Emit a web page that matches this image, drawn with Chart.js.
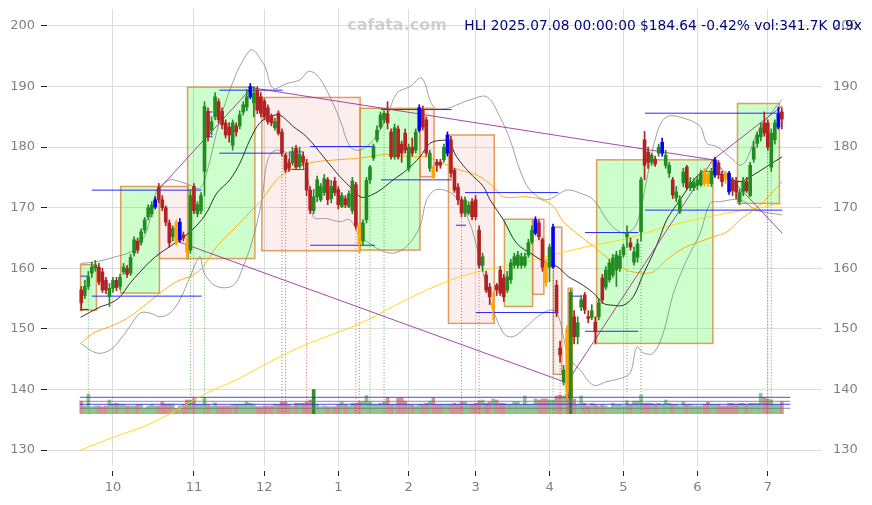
<!DOCTYPE html>
<html><head><meta charset="utf-8">
<script src="https://cdn.jsdelivr.net/npm/chart.js@4.4.0/dist/chart.umd.min.js"></script>
<style>html,body{margin:0;padding:0;background:#fff;}#wrap{position:relative;width:872px;height:505px;}</style>
</head><body><div id="wrap"><canvas id="c"></canvas></div>
<script>
// ---- DATA ----
const ticker = 'HLI';
const headline = 'HLI 2025.07.08 00:00:00 $184.64 -0.42% vol:341.7K 0.9x';
const watermark = 'cafata.com';
const monthTickIdx = [9, 32, 52, 73, 93, 112, 133, 154, 175, 195];
const monthTickLabels = ['10', '11', '12', '1', '2', '3', '4', '5', '6', '7'];
const priceTicks = [130, 140, 150, 160, 170, 180, 190, 200];

const opens = [156.4,155.5,157,159.2,160,160.2,159.4,158,155.3,156.7,158,157,159.4,160,159.2,162.5,164.5,164.3,166.3,168.5,
169,170.1,173.3,171.3,170,167.5,165.2,167.6,164.7,165.5,164.2,163,173.5,169,169.5,176,185.9,182.8,185,187.5,
185.9,184,183.3,180.3,183.5,183.5,185.8,186.6,188.3,187.3,189.4,188.3,187.6,186.5,185.2,183.2,185.6,182.5,178.7,177.4,
177.4,179.8,176.8,178.5,177.4,172.9,169.5,171.8,171.3,172.5,174.6,171.5,174.4,173,170.2,171.5,170.2,169.5,173.8,167,
164.5,168,174.6,178.2,181.2,183.3,184.5,185.5,182.5,178.4,183,180.5,182.3,176.5,180,179.5,182.8,186.1,184.5,176.5,
176.7,177.5,177.5,177.9,179,181.2,176.2,173.4,171.3,169.1,169.1,171,171.3,166.3,160.5,158.9,156.9,153.4,157.2,159.7,
158.4,156.4,158.1,160.5,160.5,160.5,160.5,162.2,164.3,165.8,167.5,164.7,160.9,160.2,160.2,157.2,146.8,141.2,150,139,
152,148.7,153.6,155.6,152,151.9,151.1,152,158.4,156.9,158.1,158.9,159.7,160,162.2,165.2,164.2,161,161.8,166,
181.2,179.2,177.5,178,179,179,177,175.7,174.6,171.6,169.3,174.1,176.7,173.3,173.3,173.7,173.8,175.9,175.5,174,
175.4,177.4,175.5,175.7,175.7,174.5,174.3,171,172.6,174.3,172,178,180.6,181.7,184,184,176.7,181.2,183.3,185.8];
const highs = [157,158,159.5,161,161.3,160.8,160,158.5,157.5,158.5,158.5,159,160.8,160.5,162.3,165.2,165,166.5,168.4,170.5,
171,171.8,174,172,170.3,168,167,168,168.2,166,165,173,174,171,172.5,187.5,186.5,185,189,188,
186.5,184.5,184,184.5,184,186,187.5,189.5,190.5,190,190,189,188,187,185.5,184.8,186,183,179,178,
180,180.3,180,179,178,173.5,173,175.2,174,175.5,175,174.5,175,173.5,172.5,172,172.8,175,174.2,167.5,
168,175,177,180.5,183.5,185.8,186,187.5,183,183.8,183.5,181,183,180.5,181.5,183,187,186.8,185,179.5,
177,178,178,180.5,182.5,181.8,176.5,174,171.8,171.8,171,171.5,172,167,162.5,159.5,157.5,156,157.5,160.3,
159,159.5,161.5,162.5,162.8,162.5,162.5,164.8,167,168.5,168,165,161.5,164,167.3,158,148,144,150.5,156.5,
153,152,155.5,156,153,154,152,155,159,160.3,161.5,162.3,162.8,163,164,167,165,163.5,164.8,175,
182.6,180,179,178.5,180.5,181.5,179.5,177.5,175,173.5,172,176.5,177,175,174.8,175.2,176.2,176.5,176,176.5,
178.3,177.8,176,176,176,175,175,173,175,175,177.5,181,182.5,184,185.8,184.5,183,184.5,186.6,186.5];
const lows = [153,155,156.5,158.5,159.5,157.3,156,155.8,153.7,156,156.3,156.5,159,158.5,158.8,162,162.5,163.8,165.8,168,
168.5,169.8,170.8,169.5,167,163.5,164.5,163.8,164.3,164.5,161.5,162.5,169,168.5,169,172,181,182,184.5,184,
183,181.5,180.8,179.5,181.8,183,185.3,186,188,185,185.5,185,184.5,183.8,183.5,182.8,182,178.5,175.8,176,
177,176.3,176.5,177,172,169,169,171,171,172,170.5,170.8,172,169.8,170,170,170,169,166.5,162.5,
163.8,167.5,174,177.8,180.8,183,184,183,178,178,178,177.5,179,176,178.5,179,182.5,182.8,178.5,176,
174.5,176,176.5,177.5,178.5,175,172.5,170.5,168.5,168.5,168.8,168,168,160,159.5,156,154,151.5,155.5,155.5,
154.5,156,157.5,160,160,160,160.2,161.8,164,165.5,164.7,159.5,157,157.8,160,152,144.5,140.7,138.5,138.5,
147.5,147.5,153,152.5,151,151.5,147.5,151.5,154.2,156.5,157.7,158.5,157,159.5,161.8,163.5,163,160.5,161,164.5,
174.6,176.5,177,176.8,178.5,178.5,176.5,175,171.5,171,169,173.5,173,172.8,172.8,173,173.5,173.5,173.5,173.5,
175,174.8,173.5,174,172.2,172,171.5,170.5,172,172.5,171.8,177.5,180,181,181.8,179.5,176,180.5,183,183];
const closes = [154.3,157,158.6,160.2,160.5,157.7,156.4,156.4,156.7,158,156.8,158.5,160.2,159,161.8,164.7,163,166,168,170,
170.4,171.3,171.3,170,167.6,164.2,166.6,164.2,167.6,165,162.7,172,169.5,170.5,172,186.7,181.7,184.2,188.3,184.5,
183.7,182,182,184,182.5,185.3,187,188.3,190,188.9,186.1,185.6,185,184.2,184,184.2,182.3,179,176.2,176.5,
179.2,176.7,178.8,177.5,172.9,169.6,171.8,174.6,173.5,174.8,171.3,173.5,172.5,170.5,172,170.5,172.3,174.4,167,164,
167.5,174.5,176.7,180,182.8,185.3,185.6,184,178.4,183.2,178.4,179,179.5,180,179,182.5,186.5,183.3,179,179,
175,177,177,180,182,175.7,172.9,171.3,169.1,171.3,170.4,168.5,168.5,160.5,161.9,156.4,155.3,154.3,156.4,155.9,
155.3,158.6,160.9,161.9,162.2,161.9,161.9,164.2,166.3,168,165.2,160.2,157.6,163.5,166.8,152.6,145.7,143.2,139.6,156,
148.7,151,154.8,153.1,151.7,153,149.5,154.3,154.8,159.7,160.9,161.7,162.2,162,163.5,165.8,163.5,162.7,164,174.6,
177,177.5,178.7,177.2,180,180.8,178.7,177,172.1,172.6,171.3,175.9,173.3,174.2,174.1,174.6,175.7,174,174,176,
177.9,175.4,174.3,174.7,172.6,172.8,172.6,172.5,174.3,172.8,177,180,182,183.2,182.3,180,182.3,184,185.42,184.64];
// volume in thousands of shares
const volumes = [360,220,560,200,220,220,200,220,390,275,295,265,265,220,220,220,265,265,170,220,
265,220,220,335,275,275,275,150,220,265,390,390,430,265,265,465,265,220,305,220,
220,220,220,265,265,265,265,342,295,265,200,200,220,220,220,265,265,335,335,265,
220,295,295,295,335,390,690,265,200,220,200,200,200,265,335,265,220,295,295,335,
335,520,335,265,265,295,335,465,265,265,450,450,360,265,265,220,265,265,295,360,
450,265,265,265,265,265,295,265,335,335,265,265,295,360,390,295,335,420,390,295,
295,265,265,335,335,265,505,265,265,420,390,420,420,390,390,505,535,505,580,705,
420,265,505,295,220,295,265,220,265,220,180,295,265,265,220,360,265,360,360,535,
295,295,295,265,295,265,390,295,265,265,220,335,265,265,220,220,220,265,335,265,
265,265,220,220,295,295,265,295,295,265,295,295,295,580,465,420,390,265,265,341.7];
const volumeLevels = [467, 353, 268, 154];
const blueCandles = [21, 28, 48, 96, 104, 129, 134, 165, 180, 184, 198];
const orangeCandles = [27, 30, 79, 100, 117, 132, 138, 177, 178, 183];
const buySignals = [2, 31, 35, 82, 86, 134, 155, 159, 195, 196];
const sellSignals = [57, 58, 64, 78, 79, 108, 113, 136, 138];

// moving averages / bands: [bar index, price]
const maShort = [[-0.2,151.9],[5.3,153.6],[8.2,154.2],[11,155.3],[13.8,157.5],[16.7,159.4],[19.5,161.1],[22.4,162.5],[25.2,163.6],[28,164.7],[30.9,166],[34.2,168],[36,169.6],[38.5,172.4],[42.2,174.6],[45.1,177.4],[47.9,181.2],[50.7,184],[53.6,185],[56.4,185.3],[60.2,183.4],[64,181.7],[68.8,178.4],[73.5,175.1],[77.3,172.9],[79.2,171.8],[81.2,171.8],[84.9,172.9],[88.6,174.6],[92.4,176.2],[96.2,178.4],[99,180.6],[101.9,181.1],[104.3,180.9],[106.6,178.4],[110.4,175.7],[114.2,173.5],[116.1,171.3],[119.9,168],[123.7,164.1],[128.4,162.2],[132.2,160.8],[135.1,160.3],[138.4,158.6],[141.7,157.5],[145.5,155.9],[148.3,154.2],[151.1,153.9],[154,153.9],[156.8,155.3],[159.6,159],[162.5,162.5],[164.4,165.2],[166.3,168],[170.1,171.3],[175.8,175.7],[179.5,175.9],[183.4,175.1],[187.1,174.3],[190.9,175.4],[194.7,176.8],[199.1,178.4]];
const maMid = [[-0.2,147.6],[3.4,149.3],[8.2,150.4],[12.9,151.7],[17.6,153.7],[22.4,155.9],[27.1,157.8],[31.8,158.9],[34.7,160.3],[38.5,163.6],[44.1,166.9],[48.9,169.9],[51.3,171.3],[55.5,174.6],[60.2,176.5],[65.9,177.5],[72.6,177.9],[79.2,178.2],[86.8,178.8],[93.4,178.4],[98.1,178.4],[102.8,177.3],[107.6,176.2],[112.3,175.4],[117,173.5],[119.9,171.8],[126.5,171.8],[130.8,171.3],[134.1,170.2],[136.9,167.7],[140.7,165.8],[145.5,163.6],[150.2,161.4],[154.9,159.7],[159.7,159.2],[162.5,159.4],[166.3,161.4],[171,163.3],[175.8,164.4],[179.5,165.2],[183.4,166],[187.1,168],[190.9,169.6],[193.8,171],[199.1,174.3]];
const maLong = [[-0.2,130],[9.1,132.1],[18.6,134.1],[27.1,136.6],[35.6,139.4],[44.1,141.6],[60.2,146.5],[79.2,150.9],[88.6,153.7],[98.1,156.4],[107.6,158.6],[117,160],[126.5,161.1],[135.9,162.5],[145.5,163.8],[154.9,164.9],[166.3,166.9],[175.8,168.2],[185.2,169.3],[194.7,170.2],[199.1,170.7]];
const bandUpper = [[-0.2,160.8],[4.4,161.1],[9.1,161.8],[14.3,162.8],[17.6,164.9],[19.5,168],[21.2,172.5],[22.4,173.5],[25.2,174.6],[28,174.3],[30.9,173.7],[33.7,173.2],[35.6,175.7],[39.4,184.5],[44.1,192.2],[47.9,196],[49.3,195.8],[50.7,194.7],[52.2,193.3],[54.5,189.7],[58.4,190.5],[62.1,191.1],[64.5,192.5],[66.9,191.9],[69.7,189.4],[73.5,184.5],[76.3,180.1],[79.2,179.5],[83,181.2],[86.8,185],[89.6,188.9],[93.4,190],[96.7,191.4],[100,186.7],[103.8,186.4],[107.6,187.2],[110.4,187.8],[115.2,188.3],[118.9,185],[121.8,181.2],[124.6,176.2],[127.5,172.9],[132.2,171.3],[137.9,172.9],[141.7,172.4],[145.5,171.3],[149.3,168],[152.1,166.3],[154.9,165.8],[157.8,167.4],[160.6,174.6],[163.5,182.3],[166.3,185],[171,184.8],[175.8,183.4],[177.7,180.6],[180.5,180.1],[185.2,177.9],[187.1,177],[189,177.9],[191.9,182.3],[196.6,186.1],[199.1,187.9]];
const bandLower = [[-0.2,147.6],[4.4,146],[8.2,146.5],[11,148.2],[13.8,150.4],[16.7,152.6],[19.5,152.6],[22.4,152],[25.2,152.6],[28,154.8],[30.9,158.6],[33.7,161.9],[34.9,159.2],[38.5,157],[43.2,157.2],[46,160.3],[48.9,165.2],[51.3,171.3],[53,178],[55.5,179.5],[60.2,178.4],[64,175.7],[65.9,168.5],[69.7,168.2],[73.5,167.7],[76.3,168],[79.2,165.2],[82,164.1],[84.9,163],[88.6,162.5],[92.4,163.6],[96.2,166.9],[98.1,171.3],[101,173],[106,172],[110,168],[113,162],[116.1,154.8],[119.9,149.3],[122.7,148.7],[126.5,150.4],[130.3,152.3],[134.1,153.1],[135.9,151.5],[138.4,145.4],[141.7,143.2],[145.5,140.7],[149.3,141.3],[153,141.8],[155.9,142.7],[157.8,147],[159.7,146],[162.5,146],[165.3,149.3],[168.2,155.9],[172,161.4],[175.8,165.8],[178.6,170.7],[181.4,171],[187.1,171.3],[191.9,169.6],[199.1,168.8]];

// zones: [fromIndex, toIndex, low, high, kind]
const zones = [[-0.2,4.3,153.1,160.6,'up'],[11.2,22.2,155.9,173.5,'up'],[22.2,30.4,161.6,173.5,'down'],[30.2,49.3,161.6,189.9,'up'],
[51.3,79.2,162.9,188.2,'down'],[79.2,96.2,163,186.4,'up'],[96.2,100.2,175.1,186.4,'down'],[104.3,117.3,150.9,182,'down'],
[120.2,128.2,153.7,168.1,'up'],[128.2,131.4,155.7,168.1,'down'],[134.1,136.5,142.5,166.8,'down'],[138.3,139.5,138.7,156.7,'down'],
[146.4,179.4,147.6,177.9,'up'],[186.4,198.3,170.7,187.2,'up'],[59.1,63.1,176.3,179.2,'mark']];
// support / resistance segments: [fromIndex, toIndex, price]
const levels = [[3,34.2,172.9],[3,34.2,155.4],[39.2,57.2,189.4],[39.2,57.2,179],[65,83.4,180.1],[65,83.4,163.8],
[85.1,105.2,186.2],[85.1,105.2,174.6],[109,135.5,172.5],[112.1,135.5,152.7],[143.1,158.2,165.9],[143.1,158.2,149.6],
[160.1,199.1,185.6],[160.1,199.1,169.6],[-0.2,2,158.7],[-0.2,2,153.2],[35.6,37.3,185.8],[35.6,37.3,181.7],[106.4,109.3,167.1],[139,142.2,155.4]];
// trend lines: [i1, p1, i2, p2]
const trends = [[22.1,173.1,48.4,189.8],[48.4,189.8,179.4,177.9],[27.5,164.4,137.9,141.1],[137.9,141.1,179.4,177.9],[179.4,177.9,199.1,186.8],[179.4,177.9,199.1,165.8]];

// ---- CHART ----
const N = closes.length;
const ids = Array.from({length: N}, (_, i) => i);
const up = i => closes[i] >= opens[i];
const candleCol = i => blueCandles.includes(i) ? '#0000ff' : orangeCandles.includes(i) ? '#ffa500' : (up(i) ? '#228b22' : '#b22222');
const volCol = i => volumes[i] > 600 ? (up(i) ? '#2e8b2e' : '#b22222') : (up(i) ? 'rgba(34,139,34,0.5)' : 'rgba(178,34,34,0.5)');
const pts = arr => arr.map(p => ({x: p[0], y: p[1]}));
const segs = list => { const out = []; list.forEach(s => { out.push({x: s[0], y: s[1]}, {x: s[2], y: s[3]}, {x: s[2], y: null}); }); return out; };
const VOL_BASE = 136.0;
const signalSegs = (list, useHigh) => segs(list.map(i => [i, useHigh ? highs[i] : lows[i], i, VOL_BASE]));
const line = (data, color, width, order, extra) => Object.assign({type: 'line', data, borderColor: color, borderWidth: width, pointRadius: 0, fill: false, order, tension: 0.35, spanGaps: false}, extra || {});

const zonePlugin = {
  id: 'zones',
  beforeDatasetsDraw(chart) {
    const {ctx, chartArea: a, scales: {x, y}} = chart;
    ctx.save();
    ctx.beginPath(); ctx.rect(a.left, a.top, a.right - a.left, a.bottom - a.top); ctx.clip();
    zones.forEach(z => {
      const x1 = x.getPixelForValue(z[0]), x2 = x.getPixelForValue(z[1]);
      const y1 = y.getPixelForValue(z[3]), y2 = y.getPixelForValue(z[2]);
      if (z[4] === 'mark') {
        ctx.strokeStyle = 'rgba(40,40,255,0.9)'; ctx.lineWidth = 1;
        ctx.strokeRect(x1, y1, x2 - x1, y2 - y1);
        return;
      }
      ctx.fillStyle = z[4] === 'up' ? 'rgba(0,255,0,0.2)' : 'rgba(240,120,120,0.13)';
      ctx.fillRect(x1, y1, x2 - x1, y2 - y1);
      ctx.strokeStyle = 'rgba(220,140,70,0.85)'; ctx.lineWidth = 1.5;
      ctx.strokeRect(x1, y1, x2 - x1, y2 - y1);
    });
    ctx.restore();
  }
};
const textPlugin = {
  id: 'texts',
  afterDraw(chart) {
    const ctx = chart.ctx;
    ctx.save();
    ctx.textBaseline = 'middle';
    ctx.font = 'bold 16px "DejaVu Sans"';
    ctx.fillStyle = 'rgba(190,190,190,0.7)';
    ctx.textAlign = 'center';
    ctx.fillText(watermark, 397, 26);
    ctx.font = '13.75px "DejaVu Sans"';
    ctx.fillStyle = '#000080';
    ctx.textAlign = 'right';
    ctx.fillText(headline, 862, 26);
    ctx.restore();
  }
};

const tickFont = {family: 'DejaVu Sans', size: 13};
const yMin = 127.36, yMax = 202.8;
const noPadV = s => { s.paddingTop = 0; s.paddingBottom = 0; };
new Chart(document.getElementById('c'), {
  type: 'bar',
  data: {
    datasets: [
      {type: 'bar', data: ids.map(i => ({x: i, y: [opens[i], closes[i]]})), backgroundColor: ids.map(candleCol), barThickness: 3, grouped: false, minBarLength: 1, order: 1},
      {type: 'bar', data: ids.map(i => ({x: i, y: [lows[i], highs[i]]})), backgroundColor: ids.map(candleCol), barThickness: 1, grouped: false, order: 2},
      line(segs(trends), 'rgba(150,40,150,0.85)', 1, 6, {tension: 0}),
      line(segs(levels.map(l => [l[0], l[2], l[1], l[2]])), 'rgba(20,20,255,0.9)', 1, 7, {tension: 0}),
      line(signalSegs(buySignals, false), 'rgba(40,150,40,0.75)', 1, 8, {tension: 0, borderDash: [1, 2]}),
      line(signalSegs(sellSignals, true), 'rgba(210,50,50,0.75)', 1, 8, {tension: 0, borderDash: [1, 2]}),
      line(pts(maShort), '#1a1a1a', 0.9, 9),
      line(pts(maMid), 'rgba(255,165,0,0.9)', 1, 10),
      line(pts(maLong), 'rgba(255,215,0,0.9)', 1, 11),
      line(pts(bandUpper), 'rgba(130,130,130,0.85)', 0.9, 12),
      line(pts(bandLower), 'rgba(130,130,130,0.85)', 0.9, 12),
      line(segs(volumeLevels.map(v => [-0.4, v, 201.4, v])), 'rgba(40,40,255,0.85)', 1, 18, {tension: 0, yAxisID: 'yv', segment: {borderColor: c => (Math.floor(c.p0DataIndex / 3) % 2 === 0 ? 'rgba(40,40,255,0.85)' : 'rgba(120,120,120,0.85)')}}),
      {type: 'bar', yAxisID: 'yv', data: ids.map(i => ({x: i, y: volumes[i]})), backgroundColor: ids.map(volCol), barThickness: 3, grouped: false, order: 20}
    ]
  },
  options: {
    responsive: true, maintainAspectRatio: false, animation: false,
    layout: {padding: {top: 9, left: 0, right: 0, bottom: 0}},
    plugins: {legend: {display: false}, tooltip: {enabled: false}},
    scales: {
      x: {type: 'linear', min: -9.74, max: 210.4, offset: false,
        afterBuildTicks: s => { s.ticks = monthTickIdx.map(v => ({value: v})); },
        afterFit: s => { s.height = 39; s.paddingLeft = 0; s.paddingRight = 0; },
        ticks: {callback: v => { const k = monthTickIdx.indexOf(v); return k >= 0 ? monthTickLabels[k] : ''; }, font: tickFont, color: '#808080', padding: 4, maxRotation: 0, autoSkip: false},
        grid: {color: '#dcdcdc', lineWidth: 1, tickColor: '#222', tickLength: 10, tickBorderDash: [0, 5, 5, 30], offset: false},
        border: {display: false}},
      y: {position: 'left', min: yMin, max: yMax,
        afterBuildTicks: s => { s.ticks = priceTicks.map(v => ({value: v})); },
        afterFit: s => { s.width = 47; noPadV(s); },
        ticks: {font: tickFont, color: '#808080', padding: 6},
        grid: {color: '#dcdcdc', lineWidth: 1, tickColor: '#222', tickLength: 6},
        border: {display: false}},
      y2: {position: 'right', min: yMin, max: yMax,
        afterBuildTicks: s => { s.ticks = priceTicks.map(v => ({value: v})); },
        afterFit: s => { s.width = 50; noPadV(s); },
        ticks: {font: tickFont, color: '#808080', padding: 11},
        grid: {drawOnChartArea: false, drawTicks: false},
        border: {display: false}},
      yv: {display: false, min: -1490.6, max: 11533.9}
    }
  },
  plugins: [zonePlugin, textPlugin]
});
</script></body></html>
